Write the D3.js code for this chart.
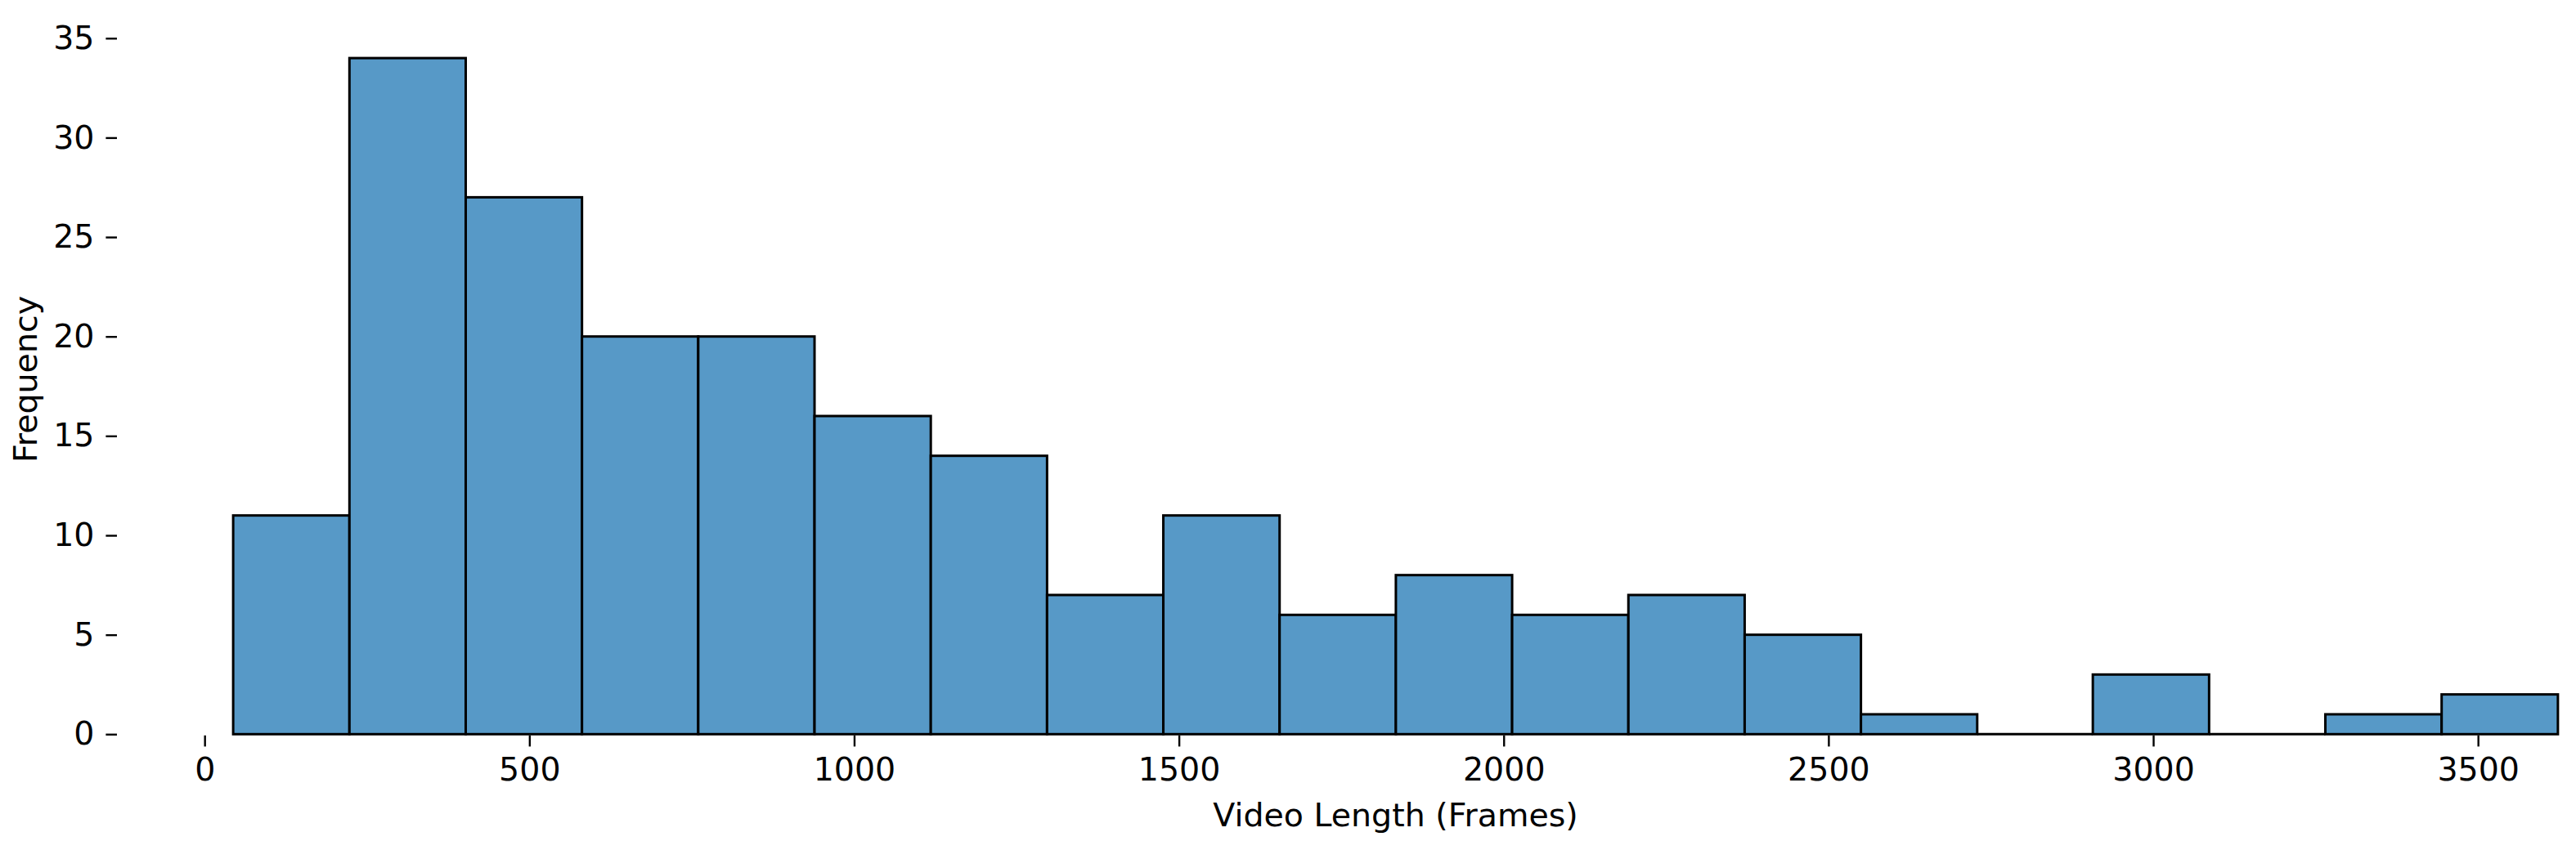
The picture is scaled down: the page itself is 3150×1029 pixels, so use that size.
<!DOCTYPE html>
<html><head><meta charset="utf-8">
<script src="https://cdn.jsdelivr.net/npm/d3@7"></script>
<style>
html,body{margin:0;padding:0;background:#fff;overflow:hidden}
text{font-family:"DejaVu Sans",sans-serif;fill:#000}
</style></head>
<body>
<script>
// Histogram bin edges (frames) and counts per bin
const binEdges = [44, 223, 402, 581, 760, 939, 1118, 1297, 1476, 1655, 1834, 2013, 2192, 2371, 2550, 2729, 2907, 3086, 3265, 3444, 3623];
const counts = [11, 34, 27, 20, 20, 16, 14, 7, 11, 6, 8, 6, 7, 5, 1, 0, 3, 0, 1, 2];
const xTicks = [0, 500, 1000, 1500, 2000, 2500, 3000, 3500];
const yTicks = [0, 5, 10, 15, 20, 25, 30, 35];
const xLabel = "Video Length (Frames)";
const yLabel = "Frequency";

const W = 3150, H = 1029;
const fs = 39.5;
const svg = d3.select("body").append("svg").attr("width", W).attr("height", H);

const span = binEdges[binEdges.length-1] - binEdges[0];
const x = d3.scaleLinear()
  .domain([binEdges[0] - span*0.05, binEdges[binEdges.length-1] + span*0.05])
  .range([143, 3270]);
const yMax = d3.max(counts) * 1.05;
const y = d3.scaleLinear().domain([0, yMax]).range([898.3, 898.3 - yMax*24.33]);

const bins = counts.map((c, i) => ({x0: binEdges[i], x1: binEdges[i+1], c}));

svg.append("g").selectAll("rect").data(bins.filter(d => d.c > 0)).join("rect")
  .attr("x", d => x(d.x0))
  .attr("y", d => y(d.c))
  .attr("width", d => x(d.x1) - x(d.x0))
  .attr("height", d => y(0) - y(d.c))
  .attr("fill", "rgb(87,153,199)")
  .attr("stroke", "#000")
  .attr("stroke-width", 3);

// zero-count bins: their edge collapses to a line on the baseline
svg.append("g").selectAll("line").data(bins.filter(d => d.c === 0)).join("line")
  .attr("x1", d => x(d.x0)).attr("x2", d => x(d.x1))
  .attr("y1", y(0)).attr("y2", y(0))
  .attr("stroke", "#000").attr("stroke-width", 3);

// X axis
const xAxis = d3.axisBottom(x).tickValues(xTicks).tickSize(13.6).tickPadding(14).tickFormat(d3.format("d"));
const gx = svg.append("g").attr("transform", `translate(0,${y(0)+1.5})`).call(xAxis);
gx.select(".domain").remove();
gx.selectAll(".tick line").attr("stroke", "#000").attr("stroke-width", 2.4);
gx.selectAll(".tick text").attr("font-size", fs).attr("font-family", "DejaVu Sans").attr("fill", "#000");

// Y axis
const yAxis = d3.axisLeft(y).tickValues(yTicks).tickSize(13.6).tickPadding(14);
const gy = svg.append("g").attr("transform", `translate(143,0)`).call(yAxis);
gy.select(".domain").remove();
gy.selectAll(".tick line").attr("stroke", "#000").attr("stroke-width", 2.4);
gy.selectAll(".tick text").attr("font-size", fs).attr("font-family", "DejaVu Sans").attr("fill", "#000");

// Axis labels
svg.append("text").attr("x", (143+3270)/2).attr("y", 1011)
  .attr("text-anchor", "middle").attr("font-size", fs).text(xLabel);
svg.append("text").attr("transform", `translate(45,464) rotate(-90)`)
  .attr("text-anchor", "middle").attr("font-size", fs).text(yLabel);
</script>
</body></html>
